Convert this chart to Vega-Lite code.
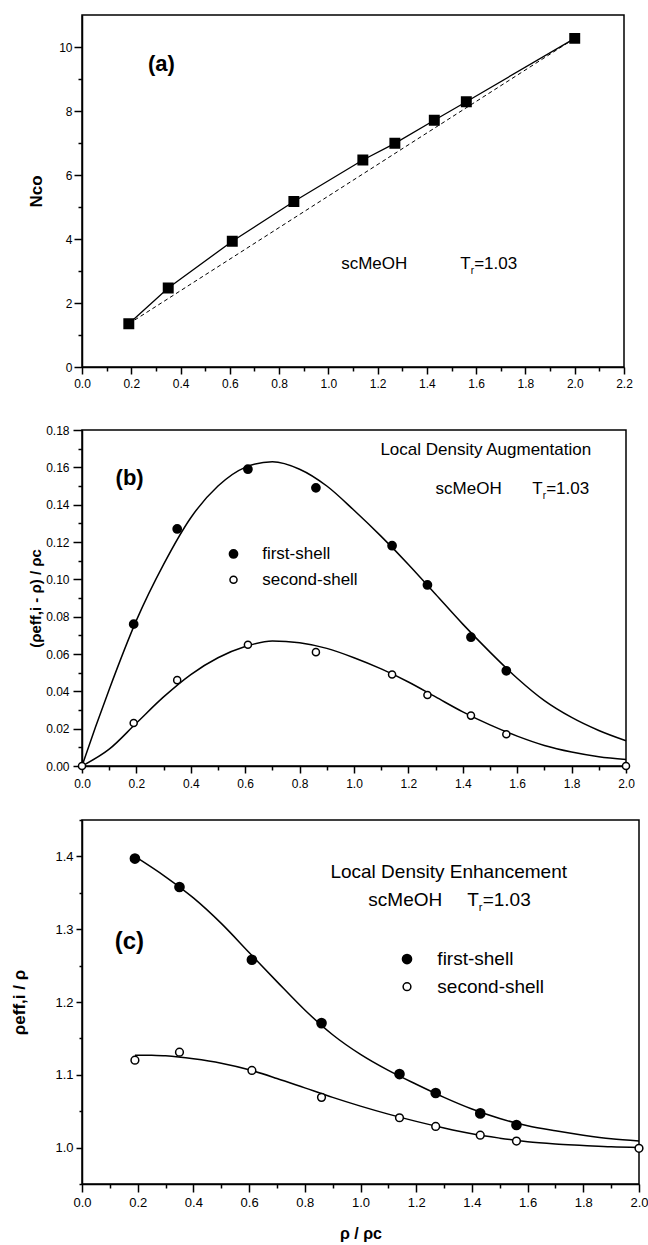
{
  "$schema": "https://vega.github.io/schema/vega-lite/v6.json",
  "padding": {"left": 10, "top": 14, "right": 5, "bottom": 2},
  "background": "white",
  "config": {
    "font": "Liberation Sans",
    "view": {"stroke": "black", "strokeWidth": 1.5},
    "axis": {"domainColor": "black", "domainWidth": 1.5, "tickColor": "black", "tickWidth": 1.5, "labelColor": "black", "labelFont": "Liberation Sans", "titleFont": "Liberation Sans", "titleColor": "black", "titleFontWeight": "bold", "grid": false, "labelOverlap": false, "labelFlush": false}
  },
  "datasets": {
    "a_pts": [
      {"x": 0.19, "y": 1.35}, {"x": 0.35, "y": 2.47}, {"x": 0.61, "y": 3.93}, {"x": 0.86, "y": 5.17}, {"x": 1.14, "y": 6.47},
      {"x": 1.27, "y": 6.99}, {"x": 1.43, "y": 7.71}, {"x": 1.56, "y": 8.29}, {"x": 2.0, "y": 10.27}
    ],
    "a_dash": [{"x": 0.19, "y": 1.35}, {"x": 2.0, "y": 10.27}],
    "a_txt": [
      {"x": 0.322, "y": 9.47, "t": "(a)", "part": "label"},
      {"x": 1.052, "y": 3.22, "t": "scMeOH", "part": "plain"},
      {"x": 1.535, "y": 3.22, "t": "T", "part": "T"},
      {"x": 1.535, "y": 3.22, "t": "r", "part": "sub"},
      {"x": 1.535, "y": 3.22, "t": "=1.03", "part": "after"}
    ],
    "b_pts": [
      {"x": 0.19, "y": 0.076, "shell": "first-shell"}, {"x": 0.35, "y": 0.127, "shell": "first-shell"}, {"x": 0.61, "y": 0.159, "shell": "first-shell"},
      {"x": 0.86, "y": 0.149, "shell": "first-shell"}, {"x": 1.14, "y": 0.118, "shell": "first-shell"}, {"x": 1.27, "y": 0.097, "shell": "first-shell"},
      {"x": 1.43, "y": 0.069, "shell": "first-shell"}, {"x": 1.56, "y": 0.051, "shell": "first-shell"},
      {"x": 0.0, "y": 0.0, "shell": "second-shell"}, {"x": 0.19, "y": 0.023, "shell": "second-shell"}, {"x": 0.35, "y": 0.046, "shell": "second-shell"},
      {"x": 0.61, "y": 0.065, "shell": "second-shell"}, {"x": 0.86, "y": 0.061, "shell": "second-shell"}, {"x": 1.14, "y": 0.049, "shell": "second-shell"},
      {"x": 1.27, "y": 0.038, "shell": "second-shell"}, {"x": 1.43, "y": 0.027, "shell": "second-shell"}, {"x": 1.56, "y": 0.017, "shell": "second-shell"},
      {"x": 2.0, "y": 0.0, "shell": "second-shell"},
      {"x": 0.557, "y": 0.1136, "shell": "first-shell", "kind": "key"},
      {"x": 0.557, "y": 0.0998, "shell": "second-shell", "kind": "key"}
    ],
    "b_fit": [
      {"x": 0.0, "y": 0.0, "shell": "first-shell"}, {"x": 0.05, "y": 0.021, "shell": "first-shell"}, {"x": 0.1, "y": 0.041, "shell": "first-shell"},
      {"x": 0.2, "y": 0.078, "shell": "first-shell"}, {"x": 0.3, "y": 0.108, "shell": "first-shell"}, {"x": 0.4, "y": 0.133, "shell": "first-shell"},
      {"x": 0.5, "y": 0.15, "shell": "first-shell"}, {"x": 0.6, "y": 0.16, "shell": "first-shell"}, {"x": 0.7, "y": 0.163, "shell": "first-shell"},
      {"x": 0.8, "y": 0.159, "shell": "first-shell"}, {"x": 0.9, "y": 0.15, "shell": "first-shell"}, {"x": 1.0, "y": 0.137, "shell": "first-shell"},
      {"x": 1.1, "y": 0.123, "shell": "first-shell"}, {"x": 1.2, "y": 0.108, "shell": "first-shell"}, {"x": 1.3, "y": 0.092, "shell": "first-shell"},
      {"x": 1.4, "y": 0.076, "shell": "first-shell"}, {"x": 1.5, "y": 0.061, "shell": "first-shell"}, {"x": 1.6, "y": 0.047, "shell": "first-shell"},
      {"x": 1.7, "y": 0.035, "shell": "first-shell"}, {"x": 1.8, "y": 0.026, "shell": "first-shell"}, {"x": 1.9, "y": 0.019, "shell": "first-shell"},
      {"x": 2.0, "y": 0.0135, "shell": "first-shell"},
      {"x": 0.0, "y": 0.0, "shell": "second-shell"}, {"x": 0.1, "y": 0.009, "shell": "second-shell"}, {"x": 0.2, "y": 0.023, "shell": "second-shell"},
      {"x": 0.3, "y": 0.037, "shell": "second-shell"}, {"x": 0.4, "y": 0.049, "shell": "second-shell"}, {"x": 0.5, "y": 0.058, "shell": "second-shell"},
      {"x": 0.6, "y": 0.064, "shell": "second-shell"}, {"x": 0.7, "y": 0.067, "shell": "second-shell"}, {"x": 0.8, "y": 0.066, "shell": "second-shell"},
      {"x": 0.9, "y": 0.063, "shell": "second-shell"}, {"x": 1.0, "y": 0.058, "shell": "second-shell"}, {"x": 1.1, "y": 0.052, "shell": "second-shell"},
      {"x": 1.2, "y": 0.045, "shell": "second-shell"}, {"x": 1.3, "y": 0.037, "shell": "second-shell"}, {"x": 1.4, "y": 0.029, "shell": "second-shell"},
      {"x": 1.5, "y": 0.022, "shell": "second-shell"}, {"x": 1.6, "y": 0.016, "shell": "second-shell"}, {"x": 1.7, "y": 0.011, "shell": "second-shell"},
      {"x": 1.8, "y": 0.0075, "shell": "second-shell"}, {"x": 1.9, "y": 0.005, "shell": "second-shell"}, {"x": 2.0, "y": 0.0035, "shell": "second-shell"}
    ],
    "b_txt": [
      {"x": 0.175, "y": 0.1543, "t": "(b)", "part": "label"},
      {"x": 1.097, "y": 0.1695, "t": "Local Density Augmentation", "part": "plain"},
      {"x": 1.3, "y": 0.1484, "t": "scMeOH", "part": "plain"},
      {"x": 1.655, "y": 0.1484, "t": "T", "part": "T"},
      {"x": 1.655, "y": 0.1484, "t": "r", "part": "sub"},
      {"x": 1.655, "y": 0.1484, "t": "=1.03", "part": "after"},
      {"x": 0.6625, "y": 0.1136, "t": "first-shell", "part": "plain"},
      {"x": 0.6625, "y": 0.0998, "t": "second-shell", "part": "plain"}
    ],
    "c_pts": [
      {"x": 0.19, "y": 1.397, "shell": "first-shell"}, {"x": 0.35, "y": 1.358, "shell": "first-shell"}, {"x": 0.61, "y": 1.258, "shell": "first-shell"},
      {"x": 0.86, "y": 1.171, "shell": "first-shell"}, {"x": 1.14, "y": 1.101, "shell": "first-shell"}, {"x": 1.27, "y": 1.075, "shell": "first-shell"},
      {"x": 1.43, "y": 1.047, "shell": "first-shell"}, {"x": 1.56, "y": 1.031, "shell": "first-shell"},
      {"x": 0.19, "y": 1.12, "shell": "second-shell"}, {"x": 0.35, "y": 1.131, "shell": "second-shell"}, {"x": 0.61, "y": 1.106, "shell": "second-shell"},
      {"x": 0.86, "y": 1.069, "shell": "second-shell"}, {"x": 1.14, "y": 1.041, "shell": "second-shell"}, {"x": 1.27, "y": 1.029, "shell": "second-shell"},
      {"x": 1.43, "y": 1.017, "shell": "second-shell"}, {"x": 1.56, "y": 1.009, "shell": "second-shell"}, {"x": 2.0, "y": 0.999, "shell": "second-shell"},
      {"x": 1.167, "y": 1.259, "shell": "first-shell", "kind": "key"},
      {"x": 1.167, "y": 1.221, "shell": "second-shell", "kind": "key"}
    ],
    "c_fit": [
      {"x": 0.19, "y": 1.4, "shell": "first-shell"}, {"x": 0.3, "y": 1.372, "shell": "first-shell"}, {"x": 0.4, "y": 1.343, "shell": "first-shell"},
      {"x": 0.5, "y": 1.308, "shell": "first-shell"}, {"x": 0.6, "y": 1.268, "shell": "first-shell"}, {"x": 0.7, "y": 1.228, "shell": "first-shell"},
      {"x": 0.8, "y": 1.189, "shell": "first-shell"}, {"x": 0.9, "y": 1.155, "shell": "first-shell"}, {"x": 1.0, "y": 1.128, "shell": "first-shell"},
      {"x": 1.1, "y": 1.106, "shell": "first-shell"}, {"x": 1.2, "y": 1.087, "shell": "first-shell"}, {"x": 1.3, "y": 1.069, "shell": "first-shell"},
      {"x": 1.4, "y": 1.053, "shell": "first-shell"}, {"x": 1.5, "y": 1.04, "shell": "first-shell"}, {"x": 1.6, "y": 1.03, "shell": "first-shell"},
      {"x": 1.7, "y": 1.023, "shell": "first-shell"}, {"x": 1.8, "y": 1.017, "shell": "first-shell"}, {"x": 1.9, "y": 1.012, "shell": "first-shell"},
      {"x": 2.0, "y": 1.009, "shell": "first-shell"},
      {"x": 0.19, "y": 1.127, "shell": "second-shell"}, {"x": 0.25, "y": 1.127, "shell": "second-shell"}, {"x": 0.3, "y": 1.126, "shell": "second-shell"},
      {"x": 0.4, "y": 1.122, "shell": "second-shell"}, {"x": 0.5, "y": 1.116, "shell": "second-shell"}, {"x": 0.6, "y": 1.107, "shell": "second-shell"},
      {"x": 0.7, "y": 1.095, "shell": "second-shell"}, {"x": 0.8, "y": 1.082, "shell": "second-shell"}, {"x": 0.9, "y": 1.069, "shell": "second-shell"},
      {"x": 1.0, "y": 1.057, "shell": "second-shell"}, {"x": 1.1, "y": 1.046, "shell": "second-shell"}, {"x": 1.2, "y": 1.036, "shell": "second-shell"},
      {"x": 1.3, "y": 1.027, "shell": "second-shell"}, {"x": 1.4, "y": 1.019, "shell": "second-shell"}, {"x": 1.5, "y": 1.013, "shell": "second-shell"},
      {"x": 1.6, "y": 1.008, "shell": "second-shell"}, {"x": 1.7, "y": 1.005, "shell": "second-shell"}, {"x": 1.8, "y": 1.003, "shell": "second-shell"},
      {"x": 1.9, "y": 1.001, "shell": "second-shell"}, {"x": 2.0, "y": 1.0, "shell": "second-shell"}
    ],
    "c_txt": [
      {"x": 0.17, "y": 1.283, "t": "(c)", "part": "label"},
      {"x": 0.892, "y": 1.379, "t": "Local Density Enhancement", "part": "plain"},
      {"x": 1.028, "y": 1.3395, "t": "scMeOH", "part": "plain"},
      {"x": 1.383, "y": 1.3395, "t": "T", "part": "T"},
      {"x": 1.383, "y": 1.3395, "t": "r", "part": "sub"},
      {"x": 1.383, "y": 1.3395, "t": "=1.03", "part": "after"},
      {"x": 1.276, "y": 1.259, "t": "first-shell", "part": "plain"},
      {"x": 1.276, "y": 1.221, "t": "second-shell", "part": "plain"}
    ]
  },
  "concat": [
    {
      "width": 542, "height": 352,
      "encoding": {
        "x": {"field": "x", "type": "quantitative", "scale": {"domain": [0, 2.2], "nice": false, "zero": false},
          "axis": {"title": " ", "titleFontSize": 10, "titlePadding": 0,
            "values": [0, 0.1, 0.2, 0.3, 0.4, 0.5, 0.6, 0.7, 0.8, 0.9, 1.0, 1.1, 1.2, 1.3, 1.4, 1.5, 1.6, 1.7, 1.8, 1.9, 2.0, 2.1, 2.2],
            "labelExpr": "abs(datum.value*5-round(datum.value*5))<0.01 ? format(datum.value, '.1f') : ''",
            "tickSize": {"condition": {"test": "abs(datum.value*5-round(datum.value*5))<0.01", "value": 7}, "value": 4},
            "labelPadding": 4, "labelFontSize": 12}},
        "y": {"field": "y", "type": "quantitative", "scale": {"domain": [0, 11], "nice": false, "zero": false},
          "axis": {"title": "Nco", "titleFontSize": 17, "titlePadding": 13,
            "values": [0, 1, 2, 3, 4, 5, 6, 7, 8, 9, 10],
            "labelExpr": "datum.value % 2 == 0 ? format(datum.value, 'd') : ''",
            "tickSize": {"condition": {"test": "datum.value % 2 == 0", "value": 8}, "value": 4},
            "labelPadding": 2, "labelFontSize": 12}}
      },
      "layer": [
        {"data": {"name": "a_dash"}, "mark": {"type": "line", "stroke": "black", "strokeWidth": 1, "strokeDash": [4, 3]}, "encoding": {}},
        {"data": {"name": "a_pts"}, "mark": {"type": "line", "stroke": "black", "strokeWidth": 1.3}, "encoding": {}},
        {"data": {"name": "a_pts"}, "mark": {"type": "point", "shape": "square", "filled": true, "fill": "black", "stroke": "black", "size": 80, "opacity": 1}, "encoding": {}},
        {"data": {"name": "a_txt"}, "transform": [{"filter": "datum.part == 'label'"}], "mark": {"type": "text", "fontSize": 22, "fontWeight": "bold", "align": "center", "baseline": "middle", "color": "black"}, "encoding": {"text": {"field": "t"}}},
        {"data": {"name": "a_txt"}, "transform": [{"filter": "datum.part == 'plain' || datum.part == 'T'"}], "mark": {"type": "text", "fontSize": 17, "align": "left", "baseline": "middle", "color": "black"}, "encoding": {"text": {"field": "t"}}},
        {"data": {"name": "a_txt"}, "transform": [{"filter": "datum.part == 'sub'"}], "mark": {"type": "text", "fontSize": 10, "align": "left", "baseline": "middle", "dx": 10.5, "dy": 7, "color": "black"}, "encoding": {"text": {"field": "t"}}},
        {"data": {"name": "a_txt"}, "transform": [{"filter": "datum.part == 'after'"}], "mark": {"type": "text", "fontSize": 17, "align": "left", "baseline": "middle", "dx": 14, "color": "black"}, "encoding": {"text": {"field": "t"}}}
      ]
    },
    {
      "width": 544, "height": 336,
      "encoding": {
        "x": {"field": "x", "type": "quantitative", "scale": {"domain": [0, 2.0], "nice": false, "zero": false},
          "axis": {"title": null,
            "values": [0, 0.1, 0.2, 0.3, 0.4, 0.5, 0.6, 0.7, 0.8, 0.9, 1.0, 1.1, 1.2, 1.3, 1.4, 1.5, 1.6, 1.7, 1.8, 1.9, 2.0],
            "labelExpr": "abs(datum.value*5-round(datum.value*5))<0.01 ? format(datum.value, '.1f') : ''",
            "tickSize": {"condition": {"test": "abs(datum.value*5-round(datum.value*5))<0.01", "value": 7}, "value": 4},
            "labelPadding": 5, "labelFontSize": 12}},
        "y": {"field": "y", "type": "quantitative", "scale": {"domain": [0, 0.18], "nice": false, "zero": false},
          "axis": {"title": "(ρeff,i - ρ) / ρc", "titleFontSize": 15, "titlePadding": 2,
            "values": [0, 0.01, 0.02, 0.03, 0.04, 0.05, 0.06, 0.07, 0.08, 0.09, 0.1, 0.11, 0.12, 0.13, 0.14, 0.15, 0.16, 0.17, 0.18],
            "labelExpr": "abs(datum.value*50-round(datum.value*50))<0.01 ? format(datum.value, '.2f') : ''",
            "tickSize": {"condition": {"test": "abs(datum.value*50-round(datum.value*50))<0.01", "value": 9}, "value": 4},
            "labelPadding": 4, "labelFontSize": 12}}
      },
      "layer": [
        {"data": {"name": "b_fit"}, "mark": {"type": "line", "stroke": "black", "strokeWidth": 1.5, "interpolate": "monotone"}, "encoding": {"detail": {"field": "shell"}}},
        {"data": {"name": "b_pts"}, "transform": [{"filter": "datum.shell == 'first-shell'"}], "mark": {"type": "point", "shape": "circle", "filled": true, "fill": "black", "stroke": "black", "size": 60, "opacity": 1}, "encoding": {}},
        {"data": {"name": "b_pts"}, "transform": [{"filter": "datum.shell == 'second-shell'"}], "mark": {"type": "point", "shape": "circle", "filled": true, "fill": "white", "stroke": "black", "strokeWidth": 1.5, "size": 50, "opacity": 1}, "encoding": {}},
        {"data": {"name": "b_txt"}, "transform": [{"filter": "datum.part == 'label'"}], "mark": {"type": "text", "fontSize": 22, "fontWeight": "bold", "align": "center", "baseline": "middle", "color": "black"}, "encoding": {"text": {"field": "t"}}},
        {"data": {"name": "b_txt"}, "transform": [{"filter": "datum.part == 'plain' || datum.part == 'T'"}], "mark": {"type": "text", "fontSize": 17, "align": "left", "baseline": "middle", "color": "black"}, "encoding": {"text": {"field": "t"}}},
        {"data": {"name": "b_txt"}, "transform": [{"filter": "datum.part == 'sub'"}], "mark": {"type": "text", "fontSize": 10, "align": "left", "baseline": "middle", "dx": 10.5, "dy": 7, "color": "black"}, "encoding": {"text": {"field": "t"}}},
        {"data": {"name": "b_txt"}, "transform": [{"filter": "datum.part == 'after'"}], "mark": {"type": "text", "fontSize": 17, "align": "left", "baseline": "middle", "dx": 14, "color": "black"}, "encoding": {"text": {"field": "t"}}}
      ]
    },
    {
      "width": 557, "height": 364,
      "encoding": {
        "x": {"field": "x", "type": "quantitative", "scale": {"domain": [0, 2.0], "nice": false, "zero": false},
          "axis": {"title": "ρ / ρc", "titleFontSize": 16, "titlePadding": 16,
            "values": [0, 0.1, 0.2, 0.3, 0.4, 0.5, 0.6, 0.7, 0.8, 0.9, 1.0, 1.1, 1.2, 1.3, 1.4, 1.5, 1.6, 1.7, 1.8, 1.9, 2.0],
            "labelExpr": "abs(datum.value*5-round(datum.value*5))<0.01 ? format(datum.value, '.1f') : ''",
            "tickSize": {"condition": {"test": "abs(datum.value*5-round(datum.value*5))<0.01", "value": 8}, "value": 4},
            "labelPadding": 4, "labelFontSize": 13}},
        "y": {"field": "y", "type": "quantitative", "scale": {"domain": [0.95, 1.45], "nice": false, "zero": false},
          "axis": {"title": "ρeff,i / ρ", "titleFontSize": 17, "titlePadding": 26,
            "values": [0.95, 1.0, 1.05, 1.1, 1.15, 1.2, 1.25, 1.3, 1.35, 1.4, 1.45],
            "labelExpr": "abs(datum.value*10-round(datum.value*10))<0.01 ? format(datum.value, '.1f') : ''",
            "tickSize": {"condition": {"test": "abs(datum.value*10-round(datum.value*10))<0.01", "value": 6}, "value": 3},
            "labelPadding": 3, "labelFontSize": 13}}
      },
      "layer": [
        {"data": {"name": "c_fit"}, "mark": {"type": "line", "stroke": "black", "strokeWidth": 1.5, "interpolate": "monotone"}, "encoding": {"detail": {"field": "shell"}}},
        {"data": {"name": "c_pts"}, "transform": [{"filter": "datum.shell == 'first-shell'"}], "mark": {"type": "point", "shape": "circle", "filled": true, "fill": "black", "stroke": "black", "size": 75, "opacity": 1}, "encoding": {}},
        {"data": {"name": "c_pts"}, "transform": [{"filter": "datum.shell == 'second-shell'"}], "mark": {"type": "point", "shape": "circle", "filled": true, "fill": "white", "stroke": "black", "strokeWidth": 1.5, "size": 60, "opacity": 1}, "encoding": {}},
        {"data": {"name": "c_txt"}, "transform": [{"filter": "datum.part == 'label'"}], "mark": {"type": "text", "fontSize": 24, "fontWeight": "bold", "align": "center", "baseline": "middle", "color": "black"}, "encoding": {"text": {"field": "t"}}},
        {"data": {"name": "c_txt"}, "transform": [{"filter": "datum.part == 'plain' || datum.part == 'T'"}], "mark": {"type": "text", "fontSize": 19, "align": "left", "baseline": "middle", "color": "black"}, "encoding": {"text": {"field": "t"}}},
        {"data": {"name": "c_txt"}, "transform": [{"filter": "datum.part == 'sub'"}], "mark": {"type": "text", "fontSize": 11, "align": "left", "baseline": "middle", "dx": 11.6, "dy": 8, "color": "black"}, "encoding": {"text": {"field": "t"}}},
        {"data": {"name": "c_txt"}, "transform": [{"filter": "datum.part == 'after'"}], "mark": {"type": "text", "fontSize": 19, "align": "left", "baseline": "middle", "dx": 15.5, "color": "black"}, "encoding": {"text": {"field": "t"}}}
      ]
    }
  ],
  "columns": 1,
  "spacing": 23
}
